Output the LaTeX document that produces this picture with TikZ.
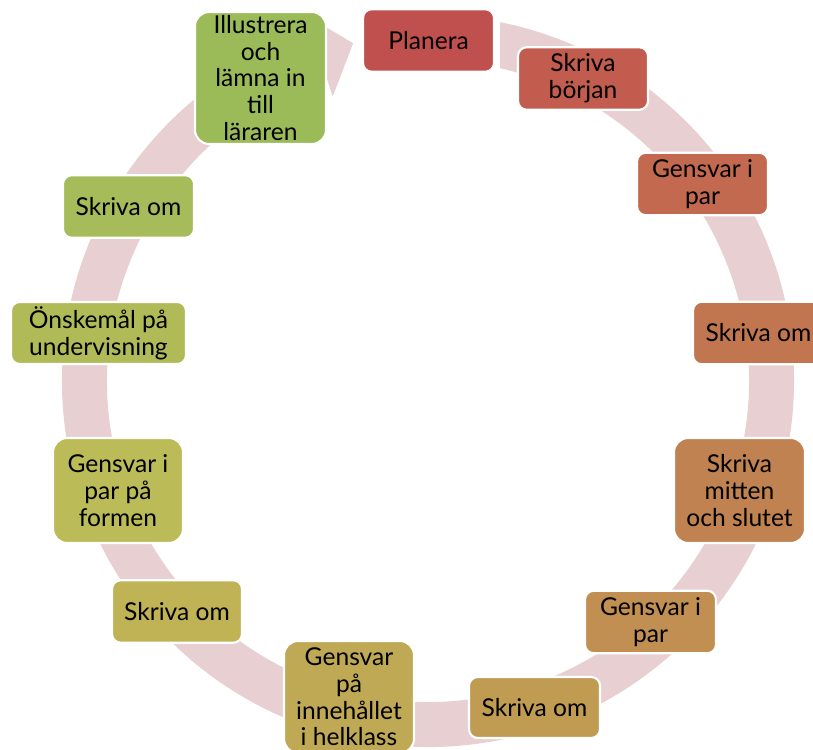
\documentclass[tikz,border=0pt]{standalone}
\usepackage{fontspec}
\setmainfont{Lato}
\usepackage{tikz}
\usetikzlibrary{positioning}
\usepackage{xcolor}

\definecolor{ringpink}{HTML}{E8D0D2}
\definecolor{stepA}{HTML}{C0504D}
\definecolor{stepB}{HTML}{C15C4E}
\definecolor{stepC}{HTML}{C2694F}
\definecolor{stepD}{HTML}{C1764F}
\definecolor{stepE}{HTML}{C08250}
\definecolor{stepF}{HTML}{C08F51}
\definecolor{stepG}{HTML}{C09C53}
\definecolor{stepH}{HTML}{C0A955}
\definecolor{stepI}{HTML}{BFB356}
\definecolor{stepJ}{HTML}{BBBB57}
\definecolor{stepK}{HTML}{B0BB58}
\definecolor{stepL}{HTML}{A6BB59}
\definecolor{stepM}{HTML}{9BBB59}

\begin{document}
\begin{tikzpicture}[x=0.02cm,y=-0.02cm,
	stage/.style={draw=white,line width=1.2pt,rectangle,rounded corners=5pt,inner sep=0pt,
		minimum width=2.62cm,minimum height=1.25cm,align=center,text=black,
		font=\fontsize{14}{15.2}\selectfont},
	tall/.style={stage,rounded corners=8pt}]
				
				\clip (0,0) rectangle (813,749);
				
				% ring with arrow head
				\begin{scope}[shift={(428,381)},y=0.02cm]
					\fill[ringpink] (77:321) -- (78.65:366) arc[start angle=78.65,end angle=-251.5,radius=366]
						-- (-251.5:386) -- (-257.5:346) -- (-251.5:300) -- (-251.5:321)
						arc[start angle=-251.5,end angle=77,radius=321] -- cycle;
				\end{scope}
				
				% right half
				\node[stage,fill=stepA] (planera) at (428.5,40.5) {Planera};
				\node[stage,fill=stepB,minimum width=2.6cm] (borjan) at (583,78.5) {Skriva\\början};
				\node[stage,fill=stepC] (par) at (702.5,184) {Gensvar i\\par};
				\node[stage,fill=stepD] (om) at (758.5,333) {Skriva om};
				\node[tall,fill=stepE,minimum height=2.1cm] (mitten) at (739.5,490.5) {Skriva\\mitten\\och slutet};
				\node[stage,fill=stepF] (partwo) at (650.5,622) {Gensvar i\\par};
				\node[stage,fill=stepG,minimum height=1.22cm] (omtwo) at (534.5,707.5) {Skriva om};
				
				% left half
				\node[tall,fill=stepH,minimum width=2.6cm,minimum height=2.24cm] (helklass) at (349,697) {Gensvar\\på\\innehållet\\i helklass};
				\node[stage,fill=stepI,minimum width=2.6cm] (omthree) at (177,611.5) {Skriva om};
				\node[tall,fill=stepJ,minimum width=2.6cm,minimum height=2.1cm] (formen) at (118,490.5) {Gensvar i\\par på\\formen};
				\node[stage,fill=stepK,minimum width=3.5cm,minimum height=1.24cm] (onskemal) at (98.5,333) {Önskemål på\\undervisning};
				\node[stage,fill=stepL] (omfour) at (128.5,206.5) {Skriva om};
				\node[tall,fill=stepM,minimum height=2.64cm] (larare) at (260.5,78) {Illustrera\\och\\lämna in\\till\\läraren};
				
			\end{tikzpicture}
\end{document}
